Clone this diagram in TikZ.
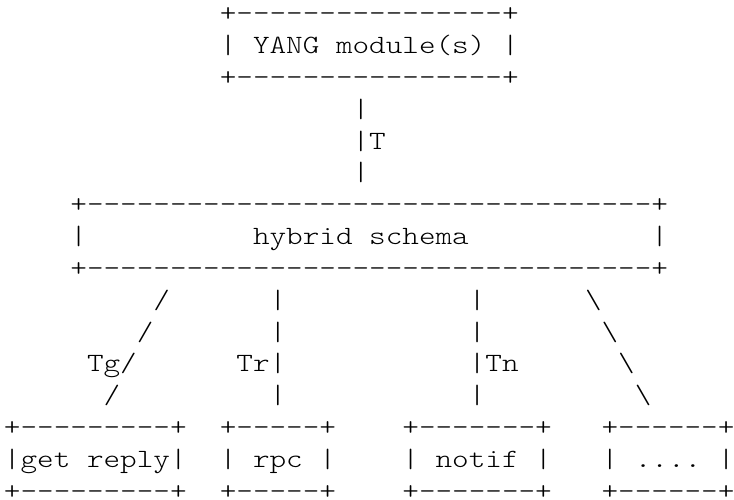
\documentclass[tikz,border=0pt]{standalone}
\usepackage{fontspec}
\setmonofont{lmmonolt10-regular}[Extension=.otf, FakeStretch=1.2]
\tikzset{
  ascii/.style={anchor=base west, inner sep=0pt, outer sep=0pt, text depth=0pt,
    font=\ttfamily\fontsize{26.35}{31.8}\selectfont, text=black}
}
% name, column, row, text
\newcommand\asciiat[4]{\node[ascii] (#1) at ({4+16.6*#2},{445.2-31.8*(#3-2)}) {#4};}
\begin{document}
\begin{tikzpicture}[x=1pt,y=1pt]
\useasboundingbox (0,0) rectangle (734,499);
% top box
\asciiat{yangT}{13}{1}{+----------------+}
\asciiat{yangM}{13}{2}{| YANG module(s) |}
\asciiat{yangB}{13}{3}{+----------------+}
% T link
\asciiat{tA}{21}{4}{|}
\asciiat{tB}{21}{5}{|T}
\asciiat{tC}{21}{6}{|}
% hybrid schema box
\asciiat{hybT}{4}{7}{+----------------------------------+}
\asciiat{hybL}{4}{8}{|}
\asciiat{hybM}{15}{8}{hybrid schema}
\asciiat{hybR}{39}{8}{|}
\asciiat{hybB}{4}{9}{+----------------------------------+}
% links row 10
\asciiat{gA}{9}{10}{/}
\asciiat{rA}{16}{10}{|}
\asciiat{nA}{28}{10}{|}
\asciiat{dA}{35}{10}{\textbackslash}
% row 11
\asciiat{gB}{8}{11}{/}
\asciiat{rB}{16}{11}{|}
\asciiat{nB}{28}{11}{|}
\asciiat{dB}{36}{11}{\textbackslash}
% row 12
\asciiat{gC}{5}{12}{Tg/}
\asciiat{rC}{14}{12}{Tr|}
\asciiat{nC}{28}{12}{|Tn}
\asciiat{dC}{37}{12}{\textbackslash}
% row 13
\asciiat{gD}{6}{13}{/}
\asciiat{rD}{16}{13}{|}
\asciiat{nD}{28}{13}{|}
\asciiat{dD}{38}{13}{\textbackslash}
% bottom boxes
\asciiat{getT}{0}{14}{+---------+}
\asciiat{getM}{0}{15}{|get reply|}
\asciiat{getB}{0}{16}{+---------+}
\asciiat{rpcT}{13}{14}{+-----+}
\asciiat{rpcM}{13}{15}{| rpc |}
\asciiat{rpcB}{13}{16}{+-----+}
\asciiat{notT}{24}{14}{+-------+}
\asciiat{notM}{24}{15}{| notif |}
\asciiat{notB}{24}{16}{+-------+}
\asciiat{dotT}{36}{14}{+------+}
\asciiat{dotM}{36}{15}{| .... |}
\asciiat{dotB}{36}{16}{+------+}
\end{tikzpicture}
\end{document}
